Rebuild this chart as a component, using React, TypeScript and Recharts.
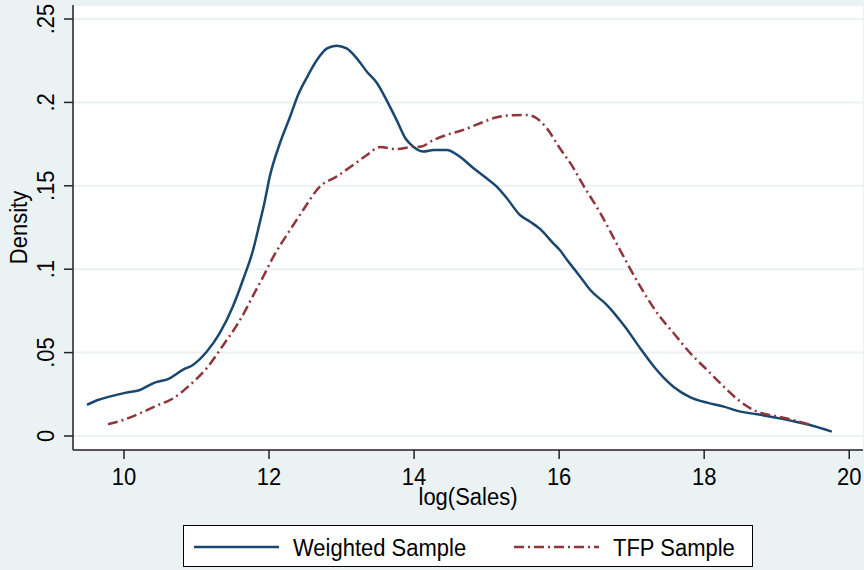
import { LineChart, Line, XAxis, YAxis, CartesianGrid } from "recharts";

const weightedX = [
  9.49, 9.64, 9.8, 10.03, 10.22, 10.4, 10.63, 10.81, 10.95, 11.14, 11.32, 11.5,
  11.64, 11.78, 11.87, 11.94, 12.01, 12.15, 12.29, 12.4, 12.54, 12.66, 12.8,
  12.93, 13.07, 13.21, 13.35, 13.49, 13.62, 13.76, 13.88, 13.99, 14.13, 14.27,
  14.45, 14.63, 14.82, 15.0, 15.14, 15.28, 15.46, 15.6, 15.74, 15.92, 16.01,
  16.11, 16.2, 16.29, 16.43, 16.66, 16.89, 17.12, 17.3, 17.58, 17.81, 18.04,
  18.27, 18.5, 18.73, 18.96, 19.19, 19.42, 19.76,
];
const weightedY = [
  0.0186, 0.0216, 0.0236, 0.026, 0.0276, 0.0316, 0.0346, 0.0396, 0.0426,
  0.0505, 0.0616, 0.0775, 0.0935, 0.1115, 0.1275, 0.1405, 0.1555, 0.1755,
  0.1914, 0.2044, 0.2164, 0.2254, 0.2324, 0.234, 0.2324, 0.2264, 0.2184,
  0.2115, 0.2014, 0.1894, 0.1785, 0.1734, 0.1705, 0.1715, 0.1715, 0.1675,
  0.1605, 0.1545, 0.1495, 0.1425, 0.1325, 0.1285, 0.124, 0.1155, 0.1115,
  0.1055, 0.1005, 0.0955, 0.0875, 0.0785, 0.0665, 0.0525, 0.042, 0.0294,
  0.0232, 0.02, 0.0176, 0.0146, 0.013, 0.0112, 0.0092, 0.007, 0.0026,
];

const tfpX = [
  9.78, 9.99, 10.22, 10.45, 10.68, 10.91, 11.14, 11.37, 11.6, 11.82, 11.92,
  12.06, 12.29, 12.47, 12.7, 12.93, 13.16, 13.35, 13.53, 13.76, 13.99, 14.08,
  14.27, 14.45, 14.68, 14.91, 15.14, 15.37, 15.55, 15.69, 15.83, 16.01, 16.2,
  16.29, 16.57, 16.84, 17.12, 17.39, 17.58, 17.81, 18.04, 18.27, 18.5, 18.73,
  18.96, 19.19, 19.47,
];
const tfpY = [
  0.007, 0.0096, 0.0136, 0.0182, 0.0226, 0.0306, 0.0406, 0.0546, 0.0695,
  0.0875, 0.0955, 0.1075, 0.1235, 0.1355, 0.1495, 0.1555, 0.1625, 0.1685,
  0.1732, 0.172, 0.1734, 0.1734, 0.1775, 0.1805, 0.1835, 0.1875, 0.1911,
  0.1923, 0.1925, 0.1905, 0.1845, 0.1725, 0.1605, 0.1535, 0.1335, 0.1115,
  0.0895, 0.0715, 0.0616, 0.0496, 0.0396, 0.0296, 0.0206, 0.0146, 0.0122,
  0.01, 0.0066,
];

const xTicks = [10, 12, 14, 16, 18, 20];
const yTicks = [0, 0.05, 0.1, 0.15, 0.2, 0.25];
const yTickLabels = ["0", ".05", ".1", ".15", ".2", ".25"];

const weightedData = weightedX.map((x, i) => ({ x, y: weightedY[i] }));
const tfpData = tfpX.map((x, i) => ({ x, y: tfpY[i] }));

const BG = "#eaf2f3";
const NAVY = "#1a476f";
const MAROON = "#90353b";
const FONT = "'Liberation Sans', Arial, sans-serif";
// stata glyphs come out a little taller than wide
const STRETCH = 1.12;

// text with its baseline at (x, y), optionally turned to read upwards
const Txt = ({ x, y, up, anchor = "middle", children }: any) => (
  <text
    transform={`translate(${x}, ${y})${up ? " rotate(-90)" : ""} scale(1, ${STRETCH})`}
    textAnchor={anchor}
    fontSize={22}
    fill="#000"
    fontFamily={FONT}
  >
    {children}
  </text>
);

const XTick = (props: any) => {
  const { x, y, payload } = props;
  return <Txt x={x} y={y + 26}>{payload.value}</Txt>;
};

const YTick = (props: any) => {
  const { x, y, payload } = props;
  const idx = yTicks.indexOf(payload.value);
  return (
    <Txt x={x - 10} y={y} up>
      {idx >= 0 ? yTickLabels[idx] : payload.value}
    </Txt>
  );
};

const XTitle = (props: any) => {
  const vb = props.viewBox;
  return <Txt x={vb.x + vb.width / 2} y={vb.y + 55}>log(Sales)</Txt>;
};

const YTitle = (props: any) => {
  const vb = props.viewBox;
  return <Txt x={27} y={vb.y + vb.height / 2} up>Density</Txt>;
};

export default function App() {
  return (
    <div
      style={{
        position: "absolute",
        left: 0,
        top: 0,
        width: 864,
        height: 570,
        background: BG,
        fontFamily: FONT,
      }}
    >
      <LineChart width={864} height={570} margin={{ top: 5, right: 1, bottom: 0, left: 0 }}>
        <CartesianGrid vertical={false} fill="#fff" stroke={BG} strokeWidth={2} />
        <XAxis
          type="number"
          dataKey="x"
          domain={[9.297, 20.19]}
          ticks={xTicks}
          allowDataOverflow
          height={120}
          tickSize={9}
          tickMargin={0}
          axisLine={{ stroke: "#222", strokeWidth: 1.5 }}
          tickLine={{ stroke: "#222", strokeWidth: 1.5 }}
          tick={<XTick />}
          label={<XTitle />}
        />
        <YAxis
          type="number"
          dataKey="y"
          domain={[-0.0084, 0.2584]}
          ticks={yTicks}
          allowDataOverflow
          width={73}
          tickSize={9}
          tickMargin={0}
          axisLine={{ stroke: "#222", strokeWidth: 1.5 }}
          tickLine={{ stroke: "#222", strokeWidth: 1.5 }}
          tick={<YTick />}
          label={<YTitle />}
        />
        <Line
          data={weightedData}
          dataKey="y"
          type="monotone"
          stroke={NAVY}
          strokeWidth={2.5}
          dot={false}
          isAnimationActive={false}
        />
        <Line
          data={tfpData}
          dataKey="y"
          type="monotone"
          stroke={MAROON}
          strokeWidth={2.5}
          strokeDasharray="10 4 2 4"
          dot={false}
          isAnimationActive={false}
        />
      </LineChart>
      <div
        style={{
          position: "absolute",
          left: 183,
          top: 525,
          width: 568,
          height: 40,
          border: "1px solid #000",
          background: "#fff",
        }}
      >
        <svg width={568} height={40} style={{ position: "absolute", left: 0, top: 0 }}>
          <line x1={10} x2={95} y1={21} y2={21} stroke={NAVY} strokeWidth={2.5} />
          <Txt x={109} y={30} anchor="start">Weighted Sample</Txt>
          <line x1={330} x2={415} y1={21} y2={21} stroke={MAROON} strokeWidth={2.5} strokeDasharray="10 4 2 4" />
          <Txt x={429} y={30} anchor="start">TFP Sample</Txt>
        </svg>
      </div>
    </div>
  );
}
